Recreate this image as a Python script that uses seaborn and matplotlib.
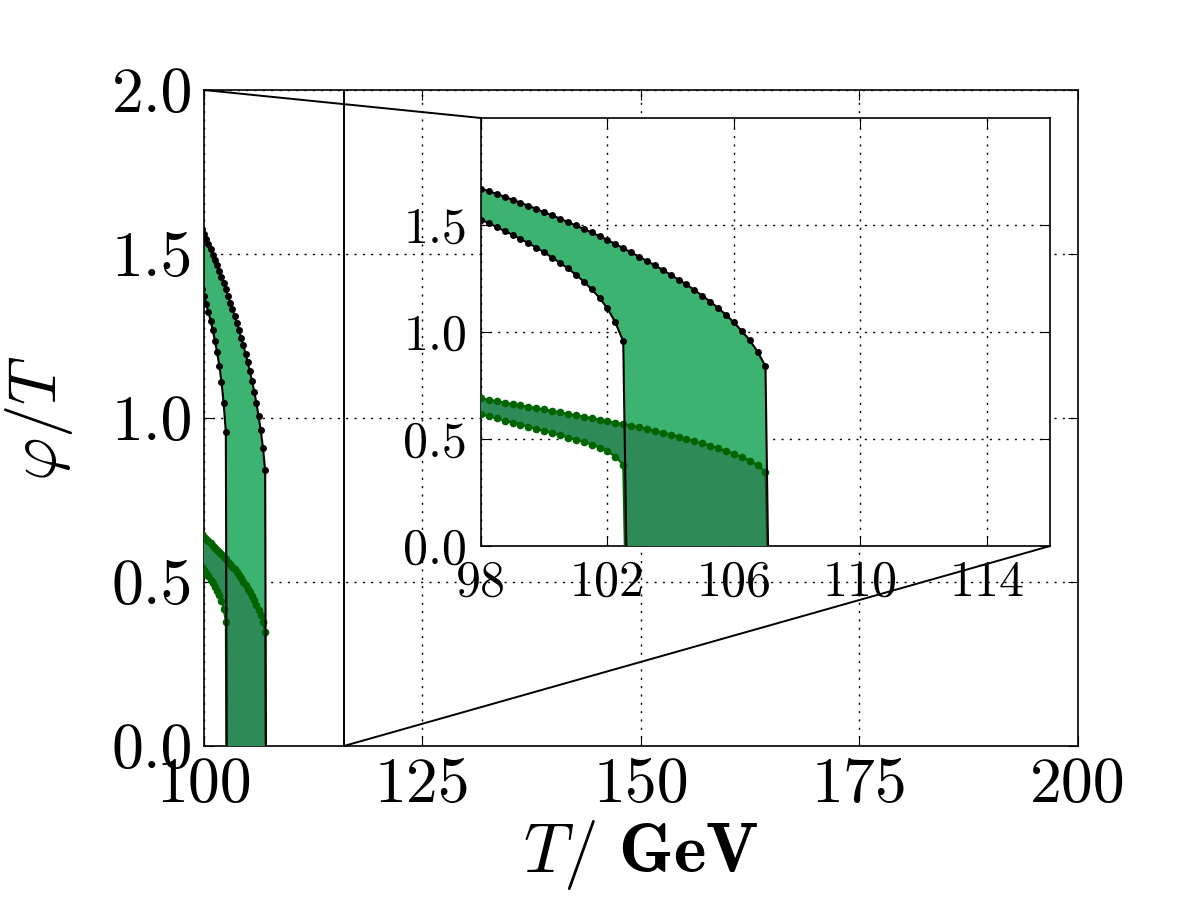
import numpy as np
import pandas as pd
import seaborn as sns
import matplotlib
matplotlib.use('Agg')
import matplotlib.pyplot as plt
from matplotlib.patches import ConnectionPatch

# temperatures (GeV) sampled on the curves
T_hi = [98.0, 98.25, 98.5, 98.75, 99.0, 99.25, 99.5, 99.75, 100.0, 100.25,
        100.5, 100.75, 101.0, 101.25, 101.5, 101.75, 102.0, 102.25, 102.5,
        102.75, 103.0, 103.25, 103.5, 103.75, 104.0, 104.25, 104.5, 104.75,
        105.0, 105.25, 105.5, 105.75, 106.0, 106.25, 106.5, 106.75, 107.0]
T_lo = T_hi[:19]
Tc_hi = 107.08
Tc_lo = 102.6

# black-edged band (light green)
band1_upper = [1.670, 1.658, 1.645, 1.632, 1.618, 1.604, 1.590, 1.575, 1.560, 1.545,
               1.530, 1.514, 1.498, 1.482, 1.465, 1.448, 1.430, 1.411, 1.392,
               1.372, 1.352, 1.332, 1.312, 1.290, 1.268, 1.245, 1.222, 1.196,
               1.170, 1.142, 1.113, 1.080, 1.045, 1.005, 0.962, 0.908, 0.840]
band1_lower = [1.525, 1.508, 1.490, 1.472, 1.454, 1.435, 1.415, 1.394, 1.372, 1.348,
               1.323, 1.297, 1.268, 1.236, 1.200, 1.160, 1.110, 1.045, 0.957]

# green-edged band (dark green)
band2_upper = [0.690, 0.683, 0.677, 0.670, 0.664, 0.657, 0.651, 0.645, 0.638, 0.632,
               0.625, 0.618, 0.611, 0.605, 0.598, 0.591, 0.584, 0.577, 0.570,
               0.562, 0.555, 0.547, 0.539, 0.530, 0.521, 0.511, 0.500, 0.490,
               0.480, 0.469, 0.457, 0.444, 0.431, 0.416, 0.399, 0.378, 0.347]
band2_lower = [0.615, 0.606, 0.596, 0.586, 0.577, 0.567, 0.557, 0.547, 0.537, 0.527,
               0.517, 0.507, 0.497, 0.486, 0.474, 0.460, 0.443, 0.418, 0.379]

main_xticks = [100, 125, 150, 175, 200]
main_yticks = [0.0, 0.5, 1.0, 1.5, 2.0]
inset_xticks = [98, 102, 106, 110, 114]
inset_yticks = [0.0, 0.5, 1.0, 1.5]

sns.set_style('ticks')
plt.rcParams.update({
    'font.family': 'serif',
    'font.serif': ['cmr10'],
    'mathtext.fontset': 'cm',
    'axes.formatter.use_mathtext': True,
    'axes.unicode_minus': False,
    'axes.edgecolor': 'black',
    'axes.labelcolor': 'black',
    'text.color': 'black',
    'axes.linewidth': 1.2,
    'xtick.direction': 'in',
    'ytick.direction': 'in',
    'xtick.top': True,
    'ytick.right': True,
    'xtick.major.size': 7,
    'ytick.major.size': 7,
    'xtick.color': 'black',
    'ytick.color': 'black',
})

light = '#3cb371'
dark = '#2e8b57'
grid_style = dict(color='black', linestyle=(0, (1.5, 4.5)), linewidth=1.0)


def draw_bands(ax):
    # filled polygons: upper curve, drop to zero, back along lower curve
    xs = T_hi + [Tc_hi, Tc_lo] + T_lo[::-1]
    ys = band1_upper + [0, 0] + band1_lower[::-1]
    ax.fill(xs, ys, color=light, lw=0, zorder=2)
    xs = T_hi + [Tc_hi - 0.02, Tc_lo - 0.05] + T_lo[::-1]
    ys = band2_upper + [0, 0] + band2_lower[::-1]
    ax.fill(xs, ys, color=dark, lw=0, zorder=3)

    # green curves with markers
    for T, y, tc in [(T_hi, band2_upper, Tc_hi - 0.02), (T_lo, band2_lower, Tc_lo - 0.05)]:
        df = pd.DataFrame({'T': T, 'y': y})
        sns.lineplot(data=df, x='T', y='y', ax=ax, color='darkgreen', lw=1.5,
                     marker='o', markersize=5.5, markeredgewidth=0, zorder=4)
        ax.plot([T[-1], tc], [y[-1], 0], color='darkgreen', lw=1.5, zorder=4)
    # black curves with markers
    for T, y, tc in [(T_hi, band1_upper, Tc_hi), (T_lo, band1_lower, Tc_lo)]:
        df = pd.DataFrame({'T': T, 'y': y})
        sns.lineplot(data=df, x='T', y='y', ax=ax, color='black', lw=1.5,
                     marker='o', markersize=5, markeredgewidth=0, zorder=5)
        ax.plot([T[-1], tc], [y[-1], 0], color='black', lw=1.5, zorder=5)


fig = plt.figure(figsize=(12, 9), dpi=100)
ax = fig.add_axes([0.17, 0.1711, 0.7283, 0.7289])
draw_bands(ax)
ax.set_xlim(100, 200)
ax.set_ylim(0, 2.0)
ax.set_xticks(main_xticks)
ax.set_yticks(main_yticks)
ax.set_xticklabels([str(v) for v in main_xticks])
ax.set_yticklabels([f'{v:.1f}' for v in main_yticks])
ax.tick_params(labelsize=46, pad=8)
ax.grid(True, **grid_style)
ax.set_xlabel(r'$T/\ \mathbf{GeV}$', fontsize=50, labelpad=2)
ax.set_ylabel(r'$\varphi/T$', fontsize=48, labelpad=26)
# zoom window edge
ax.plot([116, 116], [0, 2.0], color='black', lw=1.4, zorder=6)

axins = fig.add_axes([0.4008, 0.3933, 0.4742, 0.4756])
draw_bands(axins)
axins.set_xlim(98, 116)
axins.set_ylim(0, 2.0)
axins.set_xticks(inset_xticks)
axins.set_yticks(inset_yticks)
axins.set_xticklabels([str(v) for v in inset_xticks])
axins.set_yticklabels([f'{v:.1f}' for v in inset_yticks])
axins.tick_params(labelsize=36, pad=10)
axins.grid(True, **grid_style)
axins.set_xlabel('')
axins.set_ylabel('')

for a, b in [((100, 2.0), (98, 2.0)), ((116, 0.0), (116, 0.0))]:
    con = ConnectionPatch(xyA=a, coordsA=ax.transData, xyB=b, coordsB=axins.transData,
                          color='black', lw=1.4)
    fig.add_artist(con)

fig.savefig('out.png', dpi=100)
